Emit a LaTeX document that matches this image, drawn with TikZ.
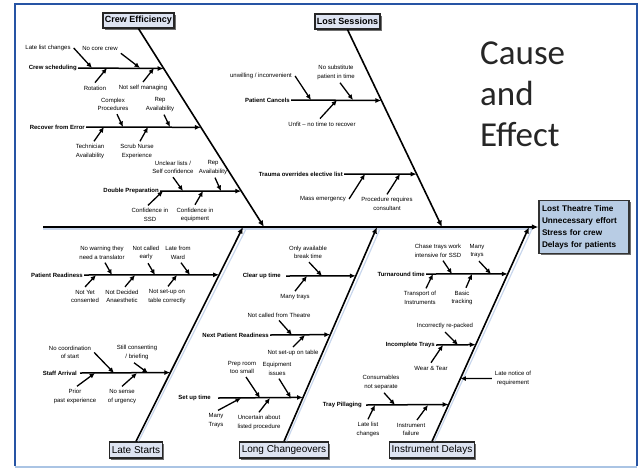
\documentclass[tikz,border=0pt]{standalone}
\usepackage{fontspec}
\setmainfont{Liberation Sans}
\newfontfamily\titlefont{Carlito}
\usetikzlibrary{arrows.meta,shadows,calc}

\definecolor{frameblue}{RGB}{38,84,164}
\definecolor{framelight}{RGB}{170,196,228}
\definecolor{catfill}{RGB}{222,228,242}
\definecolor{efffill}{RGB}{184,204,228}
\definecolor{shadowblue}{RGB}{200,214,236}

\tikzset{
 mainline/.style={line width=1.6pt, -{Latex[length=6.5pt,width=5.5pt]}},
 branchline/.style={line width=1.5pt, -{Latex[length=6pt,width=5pt]}},
 subarrow/.style={line width=1.3pt, -{Latex[length=5.5pt,width=5pt]}},
 shadowline/.style={line width=1.2pt, draw=shadowblue},
 catbox/.style={draw=black!85, line width=1.3pt, fill=catfill, inner sep=2pt,
   drop shadow={shadow xshift=1.6pt, shadow yshift=-1.6pt, fill=black!70, opacity=0.8}},
 topcat/.style={catbox, font=\bfseries\fontsize{9}{10}\selectfont, minimum height=15pt},
 botcat/.style={catbox, font=\fontsize{10}{11}\selectfont, minimum height=16pt},
 blabel/.style={font=\bfseries\fontsize{6}{7}\selectfont, inner sep=1pt},
 slabel/.style={font=\fontsize{6}{8.5}\selectfont, align=center, inner sep=3pt},
 effbox/.style={draw=black!80, line width=1.3pt, fill=efffill, align=left, text width=84pt,
   inner sep=3pt, minimum height=53pt, font=\bfseries\fontsize{8.2}{12}\selectfont,
   drop shadow={shadow xshift=1.6pt, shadow yshift=-1.6pt, fill=black!70, opacity=0.8}},
}

\begin{document}
\begin{tikzpicture}[x=1pt,y=-1pt]
\useasboundingbox (0,0) rectangle (644,469);

% frame
\draw[frameblue, line width=2pt] (14.5,466) -- (14.5,4) -- (637,4) -- (637,466);
\draw[framelight, line width=1.5pt] (14.5,467) -- (637,467);

% title
\node[anchor=north west, inner sep=0, align=left, text=black!85,
      font=\titlefont\fontsize{35}{41}\selectfont] (title) at (480,42) {Cause\\and\\Effect};

% effect box and spine
\node[effbox] (eff) at (584,227) {Lost Theatre Time\\Unnecessary effort\\Stress for crew\\Delays for patients};
\coordinate (sp0) at (43,227);
\draw[shadowline] ([shift={(0,2)}]sp0) -- ([shift={(-6,2)}]eff.west);
\draw[mainline] (sp0) -- (eff.west);

% categories
\node[topcat] (ce) at (138.5,20.5) {Crew Efficiency};
\node[topcat] (ls) at (347.5,21.5) {Lost Sessions};
\node[botcat] (lst) at (136,450) {Late Starts};
\node[botcat] (lc) at (284,450) {Long Changeovers};
\node[botcat] (idl) at (432,450) {Instrument Delays};

\coordinate (r1) at (264,227);
\coordinate (r2) at (442,227);
\coordinate (r3) at (243,227);
\coordinate (r4) at (377,227);
\coordinate (r5) at (529,227);

\draw[shadowline] ([shift={(2.5,0)}]lst.north) -- ([shift={(2.5,3)}]r3);
\draw[shadowline] ([shift={(2.5,0)}]lc.north) -- ([shift={(2.5,3)}]r4);
\draw[shadowline] ([shift={(2.5,0)}]idl.north) -- ([shift={(2.5,3)}]r5);

\draw[mainline] (ce.south) -- (r1);
\draw[mainline] (ls.south) -- (r2);
\draw[mainline] (lst.north) -- (r3);
\draw[mainline] (lc.north) -- (r4);
\draw[mainline] (idl.north) -- (r5);

% ---------- Crew Efficiency ----------
\node[blabel, anchor=east] (cs) at (78,68) {Crew scheduling};
\coordinate (b1e) at ($(ce.south)!0.201!(r1)$);
\draw[branchline] (cs.east) -- (b1e);
\node[slabel] (llc) at (48,48) {Late list changes};
\node[slabel] (ncc) at (100,48) {No core crew};
\node[slabel] (rot) at (95,88) {Rotation};
\node[slabel] (nsm) at (143,88) {Not self managing};
\draw[subarrow] (llc.east) -- ($(cs.east)+(14,0)$);
\draw[subarrow] (ncc.south east) -- ($(cs.east)+(62,0)$);
\draw[subarrow] (rot.north) -- ($(cs.east)+(29,0)$);
\draw[subarrow] (nsm.north) -- ($(cs.east)+(76,0)$);

\node[blabel, anchor=east] (rfe) at (86,127) {Recover from Error};
\coordinate (b2e) at ($(ce.south)!0.4975!(r1)$);
\draw[branchline] (rfe.east) -- (b2e);
\node[slabel] (cp) at (113,104.5) {Complex\\Procedures};
\node[slabel] (ra1) at (160,104.5) {Rep\\Availability};
\node[slabel] (ta) at (90,151.5) {Technician\\Availability};
\node[slabel] (sne) at (137,151.5) {Scrub Nurse\\Experience};
\draw[subarrow] ([xshift=4pt]cp.south) -- ($(rfe.east)+(37,0)$);
\draw[subarrow] ([xshift=4pt]ra1.south) -- ($(rfe.east)+(84,0)$);
\draw[subarrow] ([xshift=4pt]ta.north) -- ($(rfe.east)+(18,0)$);
\draw[subarrow] ([xshift=3pt]sne.north) -- ($(rfe.east)+(62,0)$);

\node[blabel, anchor=east] (dp) at (160,191) {Double Preparation};
\coordinate (b3e) at ($(ce.south)!0.819!(r1)$);
\draw[branchline] (dp.east) -- (b3e);
\node[slabel] (ul) at (173,167.5) {Unclear lists /\\Self confidence};
\node[slabel] (ra2) at (213,167.5) {Rep\\Availability};
\node[slabel] (cis) at (150,215) {Confidence in\\SSD};
\node[slabel] (cie) at (195,215) {Confidence in\\equipment};
\draw[subarrow] (ul.south) -- ($(dp.east)+(23,0)$);
\draw[subarrow] ([xshift=2pt]ra2.south) -- ($(dp.east)+(61,0)$);
\draw[subarrow] ([xshift=-2pt]cis.north) -- ($(dp.east)+(3,0)$);
\draw[subarrow] (cie.north) -- ($(dp.east)+(43,0)$);

% ---------- Lost Sessions ----------
\node[blabel, anchor=east] (pc) at (291,100) {Patient Cancels};
\coordinate (b4e) at ($(ls.south)!0.359!(r2)$);
\draw[branchline] (pc.east) -- (b4e);
\node[slabel] (uw) at (261,76) {unwilling / inconvenient};
\node[slabel] (ns) at (336,72.5) {No substitute\\patient in time};
\node[slabel] (uf) at (322,124) {Unfit -- no time to recover};
\draw[subarrow] (uw.east) -- ($(pc.east)+(20,0)$);
\draw[subarrow] ([xshift=4pt]ns.south) -- ($(pc.east)+(62,0)$);
\draw[subarrow] ([xshift=-2pt]uf.north) -- ($(pc.east)+(46,0)$);

\node[blabel, anchor=east] (tr) at (344,174) {Trauma overrides elective list};
\coordinate (b5e) at ($(ls.south)!0.732!(r2)$);
\draw[branchline] (tr.east) -- (b5e);
\node[slabel] (me) at (323,199) {Mass emergency};
\node[slabel] (prc) at (387,204) {Procedure requires\\consultant};
\draw[subarrow] (me.east) -- ($(tr.east)+(21,0)$);
\draw[subarrow] (prc.north) -- ($(tr.east)+(56,0)$);

% ---------- Late Starts ----------
\node[blabel, anchor=east] (pr) at (84,275) {Patient Readiness};
\coordinate (b6e) at ($(lst.north)!0.777!(r3)$);
\draw[branchline] (pr.east) -- (b6e);
\node[slabel] (nw) at (102,253) {No warning they\\need a translator};
\node[slabel] (nce) at (146,253) {Not called\\early};
\node[slabel] (lfw) at (178,253) {Late from\\Ward};
\node[slabel] (nyc) at (85,296.5) {Not Yet\\consented};
\node[slabel] (nda) at (122,296.5) {Not Decided\\Anaesthetic};
\node[slabel] (nst) at (167,296.5) {Not set-up on\\table correctly};
\draw[subarrow] ([xshift=3pt]nw.south) -- ($(pr.east)+(28,0)$);
\draw[subarrow] ([xshift=2pt]nce.south) -- ($(pr.east)+(71,0)$);
\draw[subarrow] ([xshift=3pt]lfw.south) -- ($(pr.east)+(106,0)$);
\draw[subarrow] (nyc.north) -- ($(pr.east)+(12,0)$);
\draw[subarrow] ([xshift=3pt]nda.north) -- ($(pr.east)+(51,0)$);
\draw[subarrow] ([xshift=1pt]nst.north) -- ($(pr.east)+(93,0)$);

\node[blabel, anchor=east] (sa) at (78,373) {Staff Arrival};
\coordinate (b7e) at ($(lst.north)!0.321!(r3)$);
\draw[branchline] ([xshift=2pt]sa.east) -- (b7e);
\node[slabel] (ncs) at (70,352.5) {No coordination\\of start};
\node[slabel] (scb) at (137,352.5) {Still consenting\\/ briefing};
\node[slabel] (ppe) at (75,396.5) {Prior\\past experience};
\node[slabel] (nsu) at (122,396.5) {No sense\\of urgency};
\draw[subarrow] (ncs.east) -- ($(sa.east)+(36,0)$);
\draw[subarrow] ([xshift=-3pt]scb.south) -- ($(sa.east)+(70,0)$);
\draw[subarrow] ([xshift=2pt]ppe.north) -- ($(sa.east)+(17,0)$);
\draw[subarrow] (nsu.north) -- ($(sa.east)+(59,0)$);

% ---------- Long Changeovers ----------
\node[blabel, anchor=east] (cut) at (282,276) {Clear up time};
\coordinate (b8e) at ($(lc.north)!0.772!(r4)$);
\draw[branchline] ([xshift=4pt]cut.east) -- (b8e);
\node[slabel] (oab) at (308,252.5) {Only available\\break time};
\node[slabel] (mt1) at (295,297) {Many trays};
\draw[subarrow] ([xshift=1pt]oab.south) -- ($(cut.east)+(40,0)$);
\draw[subarrow] (mt1.north) -- ($(cut.east)+(25,0)$);

\node[blabel, anchor=east] (npr) at (270,335) {Next Patient Readiness};
\coordinate (b9e) at ($(lc.north)!0.498!(r4)$);
\draw[branchline] (npr.east) -- (b9e);
\node[slabel] (ncft) at (279,315) {Not called from Theatre};
\node[slabel] (nsot) at (293,353) {Not set-up on table};
\draw[subarrow] (ncft.south) -- ($(npr.east)+(22,0)$);
\draw[subarrow] (nsot.north) -- ($(npr.east)+(35,0)$);

\node[blabel, anchor=east] (sut) at (212,398) {Set up time};
\coordinate (b10e) at ($(lc.north)!0.205!(r4)$);
\draw[branchline] ([xshift=6pt]sut.east) -- (b10e);
\node[slabel] (prs) at (242,367.5) {Prep room\\too small};
\node[slabel] (eqi) at (277,369) {Equipment\\issues};
\node[slabel] (mt2) at (216,420.5) {Many\\Trays};
\node[slabel] (uap) at (259,422.5) {Uncertain about\\listed procedure};
\draw[subarrow] ([xshift=4pt]prs.south) -- ($(sut.east)+(48,0)$);
\draw[subarrow] ([xshift=2pt]eqi.south) -- ($(sut.east)+(79,0)$);
\draw[subarrow] ([xshift=2pt]mt2.north) -- ($(sut.east)+(29,0)$);
\draw[subarrow] (uap.north) -- ($(sut.east)+(58,0)$);

% ---------- Instrument Delays ----------
\node[blabel, anchor=east] (tat) at (426,274) {Turnaround time};
\coordinate (b11e) at ($(idl.north)!0.781!(r5)$);
\draw[branchline] (tat.east) -- (b11e);
\node[slabel] (ct) at (438,251) {Chase trays work\\intensive for SSD};
\node[slabel] (mt3) at (477,251) {Many\\trays};
\node[slabel] (toi) at (420,298) {Transport of\\Instruments};
\node[slabel] (bt) at (462,298) {Basic\\tracking};
\draw[subarrow] ([xshift=5pt]ct.south) -- ($(tat.east)+(26,0)$);
\draw[subarrow] ([xshift=2pt]mt3.south) -- ($(tat.east)+(65,0)$);
\draw[subarrow] ([xshift=6pt]toi.north) -- ($(tat.east)+(7,0)$);
\draw[subarrow] ([xshift=4pt]bt.north) -- ($(tat.east)+(46,0)$);

\node[blabel, anchor=east] (inc) at (436,345) {Incomplete Trays};
\coordinate (b12e) at ($(idl.north)!0.451!(r5)$);
\draw[branchline] (inc.east) -- (b12e);
\node[slabel] (incr) at (445,326) {Incorrectly re-packed};
\node[slabel] (wt) at (431,368) {Wear \& Tear};
\draw[subarrow] (incr.south) -- ($(inc.east)+(22,0)$);
\draw[subarrow] (wt.north) -- ($(inc.east)+(7,0)$);

\node[blabel, anchor=east] (tp) at (363,405) {Tray Pillaging};
\coordinate (b13e) at ($(idl.north)!0.172!(r5)$);
\draw[branchline] ([xshift=3pt]tp.east) -- (b13e);
\node[slabel] (cns) at (381,382.5) {Consumables\\not separate};
\node[slabel] (llc2) at (368,429.5) {Late list\\changes};
\node[slabel] (inf) at (411,429.5) {Instrument\\failure};
\draw[subarrow] ([xshift=3pt]cns.south) -- ($(tp.east)+(32,0)$);
\draw[subarrow] (llc2.north) -- ($(tp.east)+(12,0)$);
\draw[subarrow] ([xshift=6pt]inf.north) -- ($(tp.east)+(65,0)$);

\node[slabel] (lnr) at (513,378.5) {Late notice of\\requirement};
\coordinate (b14e) at ($(idl.north)!0.293!(r5)$);
\draw[subarrow] (lnr.west) -- (b14e);

\end{tikzpicture}
\end{document}
